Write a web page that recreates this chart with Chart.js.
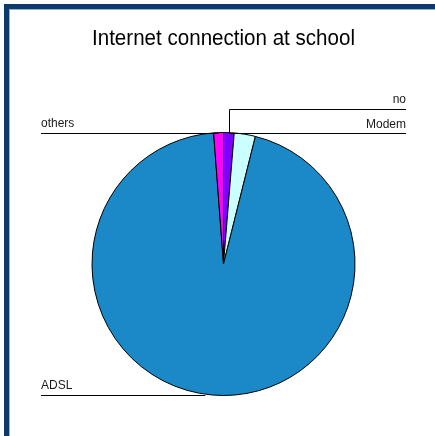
<!DOCTYPE html>
<html>
<head>
<meta charset="utf-8">
<script src="https://cdn.jsdelivr.net/npm/chart.js@4"></script>
<style>
  html, body { margin: 0; padding: 0; background: #ffffff; overflow: hidden; }
  #wrap { position: relative; width: 435px; height: 436px; }
  /* framed panel, only left and top edges are inside the window */
  #frame {
    position: absolute; left: 4px; top: 4px; width: 440px; height: 440px;
    border-left: 5px solid #0d396b; border-top: 5px solid #0d396b;
    box-shadow: inset 1px 1px 0 #8fb3d8;
  }
  #chart { position: absolute; left: 0; top: 0; }
</style>
</head>
<body>
<div id="wrap">
  <div id="frame"></div>
  <canvas id="chart" width="435" height="436"></canvas>
</div>
<script>
// Data, clockwise from 12 o'clock
const labels = ["no", "Modem", "ADSL", "others"];
const shares = [1.3, 2.6, 94.9, 1.2];
const sliceColors = ["#8000ff", "#ccffff", "#1b89c7", "#ff00ff"];

const FONT = "'Liberation Sans', Arial, sans-serif";

// Leader lines + labels, anchored on the arcs the library computed
const leaderLabels = {
  id: "leaderLabels",
  afterDraw(chart) {
    const ctx = chart.ctx;
    const arcs = chart.getDatasetMeta(0).data;
    const leftX = 41, rightX = 406;

    const anchors = arcs.map(arc => {
      const p = arc.getProps(["x", "y", "startAngle", "endAngle", "outerRadius"], true);
      const mid = (p.startAngle + p.endAngle) / 2;
      return {
        x: p.x + Math.cos(mid) * p.outerRadius,
        y: p.y + Math.sin(mid) * p.outerRadius,
        top: p.y - p.outerRadius
      };
    });

    ctx.save();
    ctx.strokeStyle = "#000000";
    ctx.lineWidth = 1;
    ctx.fillStyle = "#1a1a1a";
    ctx.font = "12px " + FONT;
    ctx.textBaseline = "alphabetic";

    const hline = (x1, x2, y) => {
      const yy = Math.round(y) + 0.5;
      ctx.beginPath();
      ctx.moveTo(x1, yy);
      ctx.lineTo(x2, yy);
      ctx.stroke();
    };

    // "no": elbow up from its slice, then out to the right
    const no = anchors[0];
    const noX = Math.round(no.x) + 0.5;
    const noY = no.top - 24;
    ctx.beginPath();
    ctx.moveTo(noX, Math.round(no.top) + 0.5);
    ctx.lineTo(noX, Math.round(noY) + 0.5);
    ctx.stroke();
    hline(noX, rightX, noY);
    ctx.textAlign = "right";
    ctx.fillText(labels[0], rightX, Math.round(noY) - 6);

    // "Modem": along the top of the pie to the right
    const modem = anchors[1];
    hline(noX, rightX, modem.top);
    ctx.fillText(labels[1], rightX, Math.round(modem.top) - 5);

    // "ADSL" and "others": out to the left
    ctx.textAlign = "left";
    [2, 3].forEach(i => {
      const a = anchors[i];
      hline(leftX, i === 2 ? a.x - 7 : a.x, a.y);
      ctx.fillText(labels[i], leftX, Math.round(a.y) - 6);
    });
    ctx.restore();
  }
};

new Chart(document.getElementById("chart"), {
  type: "pie",
  data: {
    labels: labels,
    datasets: [{
      data: shares,
      backgroundColor: sliceColors,
      borderColor: "#000000",
      borderWidth: 1,
      radius: 131.5
    }]
  },
  options: {
    responsive: false,
    animation: false,
    layout: {
      padding: { left: 92, right: 80, top: 0, bottom: 40.5 }
    },
    plugins: {
      legend: { display: false },
      tooltip: { enabled: false },
      title: {
        display: true,
        text: "Internet connection at school",
        color: "#000000",
        font: { family: FONT, size: 22.5, weight: "normal", lineHeight: 1.2 },
        padding: { top: 25, bottom: 80.5 }
      }
    }
  },
  plugins: [leaderLabels]
});
</script>
</body>
</html>
